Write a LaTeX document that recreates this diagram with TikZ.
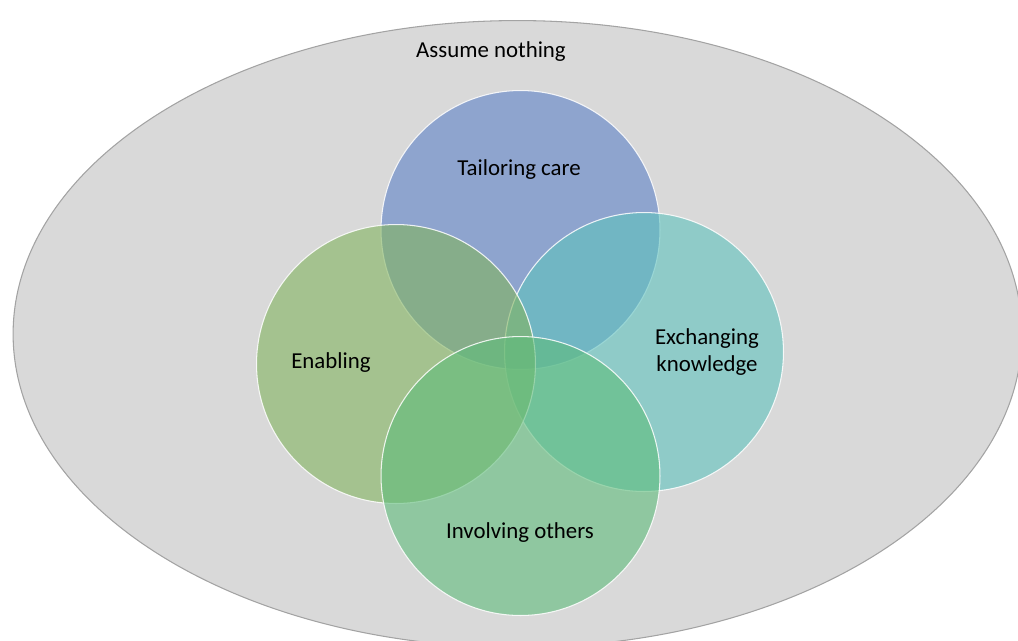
\documentclass[tikz,border=0pt]{standalone}
\usepackage{fontspec}
\setmainfont{Carlito}
\usetikzlibrary{shapes.geometric}

\definecolor{outergray}{HTML}{D9D9D9}
\definecolor{edgegray}{HTML}{A3A3A3}
\definecolor{tailorblue}{HTML}{5C82C7}
\definecolor{enablegreen}{HTML}{82B45E}
\definecolor{exchangeteal}{HTML}{5EC2BD}
\definecolor{involvegreen}{HTML}{5EBC7A}

\begin{document}
\begin{tikzpicture}[x=0.02cm, y=-0.02cm,
    venn/.style={circle, minimum size=5.58cm, inner sep=0pt,
        fill opacity=0.6, draw=white, draw opacity=0.85, line width=0.6pt},
    lbl/.style={font=\fontsize{13}{15.5}\selectfont, align=center}]
    % Frame: same proportions as the page (1 unit = 1 px)
    \useasboundingbox (0,0) rectangle (1018,640);

    % Outer ellipse
    \node[ellipse, minimum width=20.18cm, minimum height=12.54cm, inner sep=0pt,
        fill=outergray, draw=edgegray, line width=0.6pt] (outer) at (517.5,334) {};

    % The four circles
    \node[venn, fill=tailorblue] (tailor) at (520.5,230) {};
    \node[venn, fill=exchangeteal] (exchange) at (644,352) {};
    \node[venn, fill=enablegreen] (enable) at (396,364) {};
    \node[venn, fill=involvegreen] (involve) at (520.5,476) {};

    % Labels
    \node[lbl] (assume) at (491,52) {Assume nothing};
    \node[lbl] (tailortxt) at (519,170) {Tailoring care};
    \node[lbl] (enabletxt) at (331,363) {Enabling};
    \node[lbl] (exchangetxt) at (707,352) {Exchanging\\knowledge};
    \node[lbl] (involvetxt) at (520,533) {Involving others};
\end{tikzpicture}
\end{document}
